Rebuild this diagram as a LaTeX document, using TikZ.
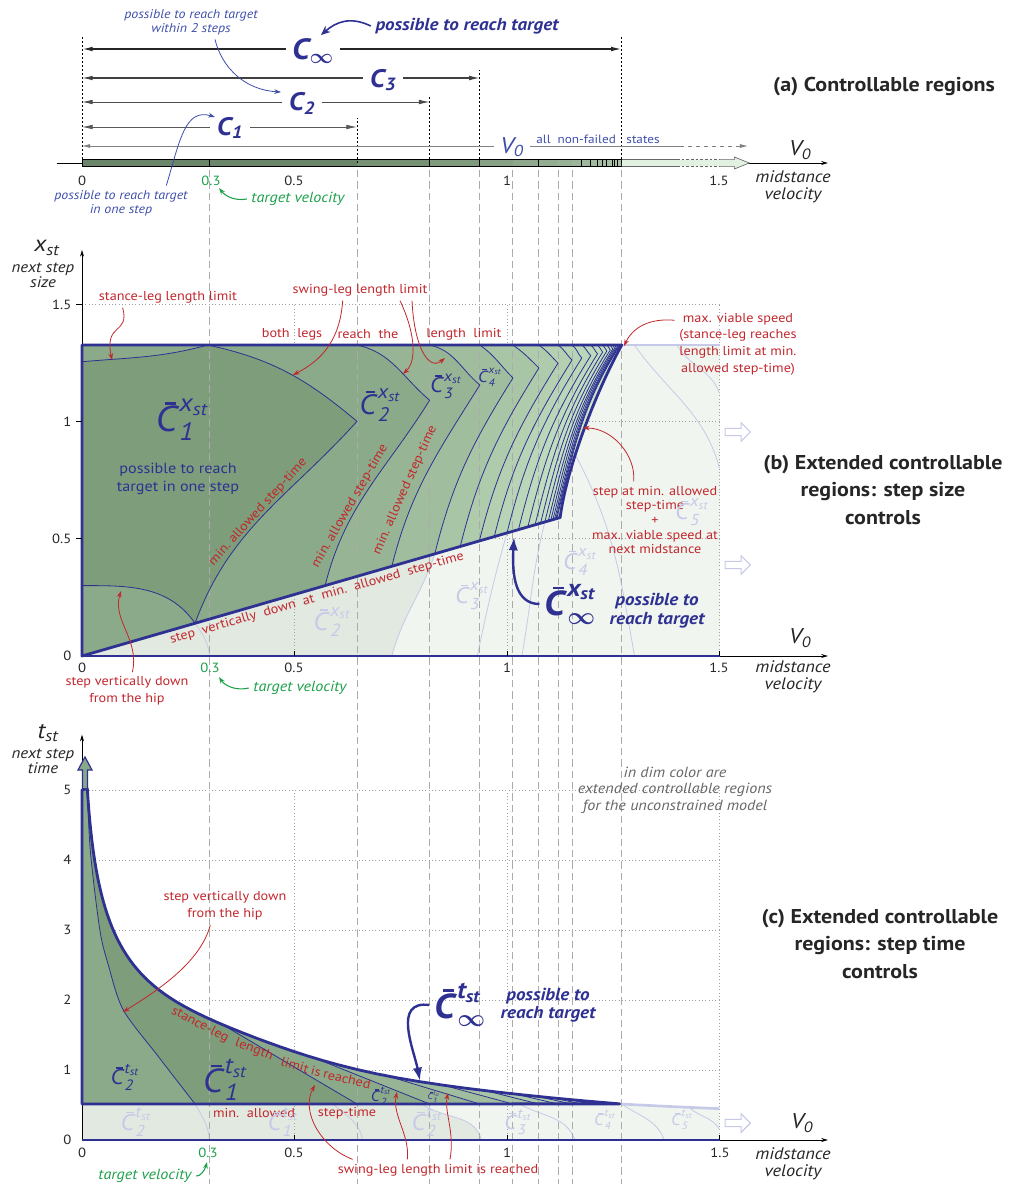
\RequirePackage{fix-cm}
\documentclass[tikz,border=0pt]{standalone}
\usepackage{amsmath}
\usepackage{fontspec}
\setmainfont{PT Sans}[FakeStretch=1.1]
\usetikzlibrary{arrows.meta,calc,shapes.arrows}
\pgfdeclarelayer{fills}
\pgfdeclarelayer{guides}
\pgfsetlayers{fills,guides,main}
\definecolor{navy}{RGB}{46,49,146}
\definecolor{midblue}{RGB}{62,78,170}
\definecolor{lblred}{RGB}{193,39,45}
\definecolor{tgtgreen}{RGB}{30,160,75}
\definecolor{cdark}{RGB}{125,157,123}
\definecolor{clight}{RGB}{203,230,200}
\definecolor{dimline}{RGB}{198,202,232}
\definecolor{dimfillA}{RGB}{226,233,225}
\definecolor{dimfillB}{RGB}{240,245,239}
\definecolor{gridgray}{RGB}{160,160,160}
\newcommand{\xst}{\text{\itshape x}_{\text{\itshape st}}}
\newcommand{\tst}{\text{\itshape t}_{\text{\itshape st}}}
\newcommand{\Cglyph}{\rlap{\kern0.25em\rule[0.76em]{0.32em}{0.07em}}\textit{C}}
\newcommand{\Cb}[2]{$\text{\Cglyph}^{#2}_{\text{\itshape #1}}$}
\newcommand{\Cinf}[1]{$\text{\Cglyph}^{#1}_{\boldsymbol{\infty}}$}
\newcommand{\Ca}[1]{$\text{\itshape C}_{\text{\itshape #1}}$}
\newcommand{\Vz}{$\text{\itshape V}_{\text{\itshape 0}}$}
\tikzset{
 declare function={tstance(\v)=1.244*ln(1+0.65/\v)*(1+0.12*sin(141.73*\v))+0.18*exp(-((\v-0.3)/0.28)^2);},
 guide/.style={black!33,line width=0.7pt,dash pattern=on 5.5pt off 3pt},
 gridline/.style={gridgray,line width=0.5pt,dotted},
 contour/.style={navy,line width=0.6pt},
 limitline/.style={navy,line width=2.1pt,line join=round},
 dimcurve/.style={dimline,line width=0.6pt},
 axisline/.style={black,line width=0.5pt},
 axisarrow/.style={axisline,-{Stealth[length=5pt,width=3pt]}},
 rangearr/.style={{Latex[length=8pt,width=3.5pt]}-{Latex[length=8pt,width=3.5pt]}},
 gaplbl/.style={fill=white,inner xsep=5pt,inner ysep=1pt,text=navy},
 ticklbl/.style={font=\fontsize{10}{12}\selectfont,text=black!85},
 axname/.style={font=\fontsize{12.5}{13}\selectfont\itshape,align=center,text=black!85},
 axsym/.style={font=\fontsize{16}{18}\selectfont,text=black!85},
 redlbl/.style={text=lblred,font=\fontsize{9.7}{12.5}\selectfont,align=center},
 redarr/.style={lblred,line width=0.6pt,-{Stealth[length=5pt,width=3.5pt]}},
 bluenote/.style={text=midblue,font=\fontsize{9.5}{10.5}\selectfont\itshape,align=center},
 bluearr/.style={midblue,line width=0.6pt,-{Stealth[length=5pt,width=3.5pt]}},
 greenlbl/.style={text=tgtgreen,font=\fontsize{11}{12}\selectfont\itshape},
 greenarr/.style={tgtgreen,line width=0.8pt,-{Stealth[length=5pt,width=3.5pt]}},
 navyarr/.style={navy,line width=1.8pt,-{Latex[length=10pt,width=7pt]}},
 possbold/.style={text=navy,font=\fontsize{13}{14}\selectfont\bfseries\itshape,align=center},
 paneltitle/.style={font=\fontsize{15}{20.5}\selectfont\bfseries,align=center,text=black!85},
 dimlbl/.style={text=dimline},
 dimarrow/.style={single arrow,draw=dimline,fill=white,line width=0.8pt,minimum height=19pt,minimum width=14pt,single arrow head extend=3pt,inner sep=1.5pt},
 stancepath/.style={insert path={-- plot[domain=0:1,samples=70,variable=\s] ({0.0125*exp(4.6214*\s)},{tstance(0.0125*exp(4.6214*\s))})}},
 xregion/.style={insert path={(0,0) -- (1.125,0.59) .. controls (1.14,0.8) and (1.21,1.13) .. (1.27,1.325) -- (0,1.325) -- cycle}},
}
\begin{document}
\begin{tikzpicture}[x=0.75pt,y=0.75pt]
\useasboundingbox (0,0) rectangle (1011,-1184);

\begin{scope}[shift={(82,-163)},x=318.75pt,y=0.75pt]
 \draw[axisarrow] (-0.059,0) -- (1.755,0);
 \foreach \k/\va/\vb in {1/0/0.647,2/0.647/0.818,3/0.818/0.936,4/0.936/1.014,5/1.014/1.075,6/1.075/1.12,7/1.12/1.153,8/1.153/1.176,9/1.176/1.197,10/1.197/1.213,11/1.213/1.225,12/1.225/1.235,13/1.235/1.243,14/1.243/1.249,15/1.249/1.253,16/1.253/1.257,17/1.257/1.26,18/1.26/1.262,19/1.262/1.264,20/1.264/1.27}{
  \pgfmathtruncatemacro\pct{100*0.82^(\k-1)}
  \fill[cdark!\pct!clight!85!black] (\va,-3.4) rectangle (\vb,3.4);
  \draw[black,line width=0.6pt] (\vb,-3.4) -- (\vb,3.4);
 }
 \draw[black,line width=1.2pt] (0.3,-3.4) -- (0.3,3.4);
 \draw[black,line width=0.7pt] (0,-3.4) rectangle (1.27,3.4);
 \fill[clight!55!white] (1.27,-3.4) -- (1.535,-3.4) -- (1.535,-6) -- (1.57,0) -- (1.535,6) -- (1.535,3.4) -- (1.27,3.4) -- cycle;
 \draw[black!60,line width=0.5pt] (1.27,3.4) -- (1.4,3.4) (1.27,-3.4) -- (1.4,-3.4);
 \draw[black!60,line width=0.5pt,dash pattern=on 2pt off 1.5pt] (1.4,3.4) -- (1.5,3.4) (1.4,-3.4) -- (1.5,-3.4);
 \draw[black!60,line width=0.5pt] (1.5,3.4) -- (1.535,3.4) -- (1.535,6) -- (1.57,0) -- (1.535,-6) -- (1.535,-3.4) -- (1.5,-3.4);
 \foreach \v/\h in {0/128,0.647/45,0.818/68,0.936/93,1.27/128}
  \draw[black,line width=0.6pt,dash pattern=on 1.5pt off 1.5pt] (\v,0) -- (\v,\h);
 \draw[rangearr,black!85,line width=1.1pt] (0,114) -- (1.27,114);
 \draw[rangearr,black!75,line width=0.9pt] (0,85) -- (0.936,85);
 \draw[rangearr,black!70,line width=0.7pt] (0,61) -- (0.818,61);
 \draw[rangearr,black!65,line width=0.6pt] (0,36) -- (0.647,36);
 \draw[black!50,line width=0.6pt,{Latex[length=6pt,width=3pt]}-] (0,17) -- (1.407,17);
 \draw[black!50,line width=0.6pt,dashed,-{Latex[length=6pt,width=3pt]}] (1.407,17) -- (1.567,17);
\end{scope}

\begin{scope}[shift={(82,-656)},x=318.75pt,y=176pt]
 \begin{pgfonlayer}{fills}
  \fill[dimfillB] (0,0) rectangle (1.5,1.325);
  \fill[dimfillA] (0,0) -- (0.83,0.4353) to[out=252,in=75] (0.729,0) -- cycle;
  \foreach \g in {0.5,1,1.5}{
   \draw[gridline] (0,\g) -- (1.5,\g);
   \draw[gridline] (\g,0) -- (\g,1.5);
  }
  \draw[dimcurve] (0.266,0.1395) to[out=-55,in=95] (0.3,0);
  \draw[dimcurve] (0.83,0.4353) to[out=252,in=75] (0.729,0);
  \draw[dimcurve] (1,0.5244) to[out=254,in=78] (0.93,0);
  \draw[dimcurve] (1.089,0.571) to[out=256,in=80] (1.035,0);
  \draw[dimcurve] (1.16,0.86) to[out=-62,in=100] (1.3,0);
  \draw[dimcurve] (1.3,1.325) to[out=-55,in=105] (1.5,0.8);
  \draw[dimcurve] (1.4,1.325) to[out=-60,in=110] (1.5,1.12);
  \fill[clight] [xregion];
  \begin{scope}
   \clip [xregion];
   \foreach \k/\vt/\vv/\xv/\vb in {19/1.262/1.264/1.319/1.117,18/1.260/1.262/1.318/1.115,17/1.257/1.260/1.316/1.112,16/1.253/1.257/1.314/1.108,15/1.249/1.253/1.311/1.103,14/1.243/1.249/1.308/1.097,13/1.235/1.243/1.304/1.089,12/1.225/1.235/1.300/1.079,11/1.213/1.225/1.295/1.066,10/1.197/1.213/1.288/1.049,9/1.176/1.197/1.280/1.027,8/1.153/1.176/1.270/1.000,7/1.120/1.153/1.261/0.970,6/1.075/1.120/1.248/0.935,5/1.014/1.075/1.227/0.890,4/0.936/1.014/1.185/0.830,3/0.818/0.936/1.155/0.729,2/0.647/0.818/1.090/0.572}{
    \pgfmathtruncatemacro\pct{100*0.82^(\k-1)}
    \pgfmathsetmacro\yb{0.5244*\vb}
    \pgfmathsetmacro\uo{\k<4 ? -12 : -35}
    \pgfmathsetmacro\ui{\k<4 ? 140 : 135}
    \fill[cdark!\pct!clight] (0,0) -- (\vb,\yb) to[out=76,in=238] (\vv,\xv) to[out=\ui,in=\uo] (\vt,1.325) -- (0,1.325) -- cycle;
   }
   \fill[cdark] (0,1.254) to[out=5,in=195] (0.296,1.325) to[out=-12,in=140] (0.647,1.0) to[out=228,in=70] (0.266,0.1395) to[out=125,in=0] (0,0.3) -- cycle;
  \end{scope}
 \end{pgfonlayer}
 \begin{scope}
  \clip [xregion];
  \foreach \k/\vt/\vv/\xv/\vb in {19/1.262/1.264/1.319/1.117,18/1.260/1.262/1.318/1.115,17/1.257/1.260/1.316/1.112,16/1.253/1.257/1.314/1.108,15/1.249/1.253/1.311/1.103,14/1.243/1.249/1.308/1.097,13/1.235/1.243/1.304/1.089,12/1.225/1.235/1.300/1.079,11/1.213/1.225/1.295/1.066,10/1.197/1.213/1.288/1.049,9/1.176/1.197/1.280/1.027,8/1.153/1.176/1.270/1.000,7/1.120/1.153/1.261/0.970,6/1.075/1.120/1.248/0.935,5/1.014/1.075/1.227/0.890,4/0.936/1.014/1.185/0.830,3/0.818/0.936/1.155/0.729,2/0.647/0.818/1.090/0.572}{
   \pgfmathsetmacro\yb{0.5244*\vb}
   \pgfmathsetmacro\uo{\k<4 ? -12 : -35}
   \pgfmathsetmacro\ui{\k<4 ? 140 : 135}
   \draw[contour] (\vb,\yb) to[out=76,in=238] (\vv,\xv) to[out=\ui,in=\uo] (\vt,1.325);
  }
 \end{scope}
 \draw[contour] (0,1.254) to[out=5,in=195] (0.296,1.325) to[out=-12,in=140] (0.647,1.0) to[out=228,in=70] (0.266,0.1395) to[out=125,in=0] (0,0.3);
 \draw[dimline,line width=2pt] (1.27,1.325) -- (1.5,1.325);
 \draw[axisarrow] (0,0) -- (1.755,0);
 \draw[axisarrow] (0,0) -- (0,1.73);
 \draw[navy,line width=1pt] (0,0) -- (1.5,0);
 \draw[limitline] [xregion];
 \foreach \g in {0.5,1,1.5}{
  \draw[axisline] (-0.014,\g) -- (0,\g);
  \draw[axisline] (\g,0) -- (\g,0.022);
 }
\end{scope}

\begin{scope}[shift={(82,-1140)},x=318.75pt,y=52.5pt]
 \begin{pgfonlayer}{fills}
  \fill[dimfillB] (0,0) -- (0,0.514) -- (1.27,0.514) -- plot[domain=1.27:1.5,samples=10] (\x,{1.244*ln(1+0.65/\x)}) -- (1.5,0) -- cycle;
  \fill[dimfillA] (0,0) -- (0,0.514) -- (0.8,0.514) to[out=-35,in=105] (0.94,0) -- cycle;
  \foreach \g in {1,...,5} \draw[gridline] (0,\g) -- (1.5,\g);
  \foreach \g in {0.5,1,1.5} \draw[gridline] (\g,0) -- (\g,5);
  \draw[dimcurve] (0.266,0.514) to[out=-60,in=95] (0.3,0);
  \draw[dimcurve] (0.59,0.514) to[out=-40,in=100] (0.66,0);
  \draw[dimcurve] (0.8,0.514) to[out=-35,in=105] (0.94,0);
  \draw[dimcurve] (1.03,0.514) to[out=-30,in=110] (1.16,0);
  \draw[dimcurve] (1.27,0.514) to[out=-35,in=110] (1.37,0);
  \draw[dimcurve] (1.43,0.455) to[out=-40,in=120] (1.5,0.15);
  \fill[clight] (0,0.514) -- (0,5) [stancepath] -- cycle;
  \begin{scope}
   \clip (0,0.514) -- (0,5) [stancepath] -- cycle;
   \foreach \k/\vs/\vv in {15/1.236/1.253,14/1.228/1.249,13/1.218/1.243,12/1.205/1.235,11/1.19/1.225,10/1.17/1.213,9/1.145/1.197,8/1.11/1.176,7/1.07/1.153,6/1.02/1.12,5/0.95/1.075,4/0.85/1.014,3/0.72/0.936,2/0.55/0.818}{
    \pgfmathtruncatemacro\pct{100*0.82^(\k-1)}
    \pgfmathsetmacro\ts{tstance(\vs)}
    \fill[cdark!\pct!clight] (0,0) -- (\vv,0.514) -- ($(\vv,0.514)!1.4!(\vs,\ts)$) |- (0,6) -- cycle;
   }
   \pgfmathsetmacro\tone{tstance(0.33)}
   \fill[cdark] plot[smooth] coordinates {(0.004,5.6) (0.012,5) (0.02,4.1) (0.042,3) (0.062,2.5) (0.097,1.86) (0.18,1.19) (0.266,0.514)} -- (0.647,0.514) -- ($(0.647,0.514)!1.3!(0.33,\tone)$) |- (0.004,6) -- cycle;
  \end{scope}
 \end{pgfonlayer}
 \begin{scope}
  \clip (0,0.514) -- (0,5) [stancepath] -- cycle;
  \foreach \k/\vs/\vv in {15/1.236/1.253,14/1.228/1.249,13/1.218/1.243,12/1.205/1.235,11/1.19/1.225,10/1.17/1.213,9/1.145/1.197,8/1.11/1.176,7/1.07/1.153,6/1.02/1.12,5/0.95/1.075,4/0.85/1.014,3/0.72/0.936,2/0.55/0.818}{
   \pgfmathsetmacro\ts{tstance(\vs)}
   \draw[contour] (\vv,0.514) -- ($(\vv,0.514)!1.4!(\vs,\ts)$);
  }
  \pgfmathsetmacro\tone{tstance(0.33)}
  \draw[contour] (0.647,0.514) -- ($(0.647,0.514)!1.3!(0.33,\tone)$);
  \draw[contour] plot[smooth] coordinates {(0.004,5.6) (0.012,5) (0.02,4.1) (0.042,3) (0.062,2.5) (0.097,1.86) (0.18,1.19) (0.266,0.514)};
 \end{scope}
 \draw[dimline,line width=2pt] plot[domain=1.27:1.5,samples=10] (\x,{1.244*ln(1+0.65/\x)});
 \draw[axisarrow] (0,0) -- (1.755,0);
 \draw[axisarrow] (0,0) -- (0,5.79);
 \draw[navy,line width=1pt] (0,0) -- (1.5,0);
 \draw[limitline] (0,0.514) -- (0,5) [stancepath] -- cycle;
 \foreach \g in {0.5,1,1.5} \draw[axisline] (\g,0) -- (\g,0.07);
\end{scope}
\filldraw[fill=cdark!85!clight,draw=navy,line width=0.9pt] (82.5,-788) -- (82.5,-770) -- (78,-770) -- (85,-757) -- (92,-770) -- (87.5,-770) -- (87.5,-788);

\begin{pgfonlayer}{guides}
 \foreach \v in {0.3,0.647,0.818,0.936,1.014,1.075,1.12,1.153,1.27}
  \draw[guide] ({82+425*\v},-170) -- ({82+425*\v},-1184);
\end{pgfonlayer}

\node[paneltitle] (titlea) at (884,-87) {(a) Controllable regions};
\node[axsym] (vzeroa) at (800,-150) {\Vz};
\node[axname] (midvela) at (793,-187) {midstance\\velocity};
\node[ticklbl] (ta0) at (82,-181) {0};
\node[ticklbl,text=tgtgreen] (ta03) at (211,-181) {0.3};
\node[ticklbl] (ta05) at (294,-181) {0.5};
\node[ticklbl] (ta1) at (507,-181) {1};
\node[ticklbl] (ta15) at (719,-181) {1.5};
\node[gaplbl,font=\fontsize{22}{24}\selectfont\bfseries] (cinfa) at (313,-51) {$\text{\itshape C}_{\boldsymbol{\infty}}$};
\node[gaplbl,font=\fontsize{19}{21}\selectfont\bfseries] (c3a) at (383,-80) {\Ca{3}};
\node[gaplbl,font=\fontsize{19}{21}\selectfont\bfseries] (c2a) at (302,-103) {\Ca{2}};
\node[gaplbl,font=\fontsize{19}{21}\selectfont\bfseries] (c1a) at (230,-128) {\Ca{1}};
\node[gaplbl,text=midblue,font=\fontsize{17}{19}\selectfont] (vzgap) at (512,-147) {\Vz};
\node[text=midblue,font=\fontsize{9}{10}\selectfont] (nonfailed) at (598,-139) {all\ \ non-failed\ \ \ states};
\node[possbold] (possa) at (467,-26) {possible to reach target};
\node[bluenote] (within2) at (191,-22) {possible to reach target\\within 2 steps};
\node[bluenote] (onestep) at (121,-203) {possible to reach target\\in one step};
\node[greenlbl] (tgtvela) at (298,-199) {target velocity};
\coordinate (tipcinfa) at (321,-35);
\coordinate (tipc2a) at (281,-92);
\coordinate (tipc1a) at (215,-117);
\coordinate (tiptgta) at (219,-188);
\draw[navy,line width=1.2pt,-{Stealth[length=7pt,width=6pt]}] (possa.west) .. controls (350,-16) and (336,-22) .. (tipcinfa);
\draw[bluearr] ([xshift=18pt]within2.south) .. controls (222,-68) and (245,-90) .. (tipc2a);
\draw[bluearr] ([xshift=34pt]onestep.north) .. controls (180,-140) and (185,-108) .. (tipc1a);
\draw[greenarr] (tgtvela.west) .. controls (236,-201) and (226,-197) .. (tiptgta);

\node[paneltitle] (titleb) at (883,-490) {(b) Extended controllable\\regions: step size\\controls};
\node[axsym,font=\fontsize{17}{19}\selectfont] (xstlbl) at (47,-248) {$\xst$};
\node[axname,font=\fontsize{11.5}{11.5}\selectfont\itshape] (nextsize) at (43,-275) {next step\\size};
\node[axsym] (vzerob) at (800,-638) {\Vz};
\node[axname] (midvelb) at (793,-677) {midstance\\velocity};
\node[ticklbl,anchor=east] (tb15) at (76,-305) {1.5};
\node[ticklbl,anchor=east] (tb1) at (76,-422) {1};
\node[ticklbl,anchor=east] (tb05) at (76,-539) {0.5};
\node[ticklbl,anchor=east] (tb0) at (76,-656) {0};
\node[ticklbl] (tbx0) at (82,-668) {0};
\node[ticklbl,text=tgtgreen] (tbx03) at (210,-668) {0.3};
\node[ticklbl] (tbx05) at (294,-668) {0.5};
\node[ticklbl] (tbx1) at (507,-668) {1};
\node[ticklbl] (tbx15) at (719,-668) {1.5};
\node[redlbl] (stancelbl) at (168,-297) {stance-leg length limit};
\node[redlbl] (swinglbl) at (360,-290) {swing-leg length limit};
\node[redlbl] (bothlegs) at (292,-334) {both\ \ legs};
\node[redlbl] (reachthe) at (368,-334) {reach\ \ the};
\node[redlbl] (lenlimit) at (464,-334) {length\ \ limit};
\node[redlbl] (maxvlbl) at (738,-344) {max. viable speed\\(stance-leg reaches\\length limit at min.\\allowed step-time)};
\node[redlbl,font=\fontsize{9.7}{11}\selectfont] (stepminlbl) at (655,-520) {step at min. allowed\\step-time\\+\\max. viable speed at\\next midstance};
\node[redlbl,rotate=48] (minal1) at (258,-512) {min.\ allowed step-time};
\node[redlbl,rotate=60] (minal2) at (350,-506) {min.\ allowed step-time};
\node[redlbl,rotate=66] (minal3) at (405,-490) {min.\ allowed step-time};
\node[redlbl,rotate=16] (lowlinelbl) at (317,-598) {step\ \ vertically\ \ down\ \ at\ \ min.\ \ allowed\ \ step-time};
\node[text=navy,font=\fontsize{27}{30}\selectfont] (c1b) at (182,-420) {\Cb{1}{\xst}};
\node[text=navy,font=\fontsize{11}{13}\selectfont,align=center] (poss1b) at (178,-479) {possible to reach\\target in one step};
\node[text=navy,font=\fontsize{21}{24}\selectfont] (c2b) at (380,-405) {\Cb{2}{\xst}};
\node[text=navy,font=\fontsize{16}{18}\selectfont] (c3b) at (446,-386) {\Cb{3}{\xst}};
\node[text=navy,font=\fontsize{12}{14}\selectfont] (c4b) at (490,-377) {\Cb{4}{\xst}};
\node[text=navy,font=\fontsize{26}{28}\selectfont\bfseries] (cinfb) at (570,-604) {\Cinf{\xst}};
\node[possbold] (possb) at (657,-611) {possible to\\reach target};
\node[dimlbl,font=\fontsize{19}{21}\selectfont] (dc2b) at (332,-622) {\Cb{2}{\xst}};
\node[dimlbl,font=\fontsize{17}{19}\selectfont] (dc3b) at (472,-596) {\Cb{3}{\xst}};
\node[dimlbl,font=\fontsize{17}{19}\selectfont] (dc4b) at (580,-562) {\Cb{4}{\xst}};
\node[dimlbl,font=\fontsize{17}{19}\selectfont] (dc5b) at (692,-512) {\Cb{5}{\xst}};
\node[dimarrow] (darb1) at (736,-432) {};
\node[dimarrow] (darb2) at (736,-565) {};
\node[redlbl] (hipb) at (127,-691) {step vertically down\\from the hip};
\node[greenlbl] (tgtvelb) at (300,-688) {target velocity};
\coordinate (tipstance) at (112,-360);
\coordinate (tipsw1) at (293,-375);
\coordinate (tipsw2) at (403,-374);
\coordinate (tipsw3) at (445,-358);
\coordinate (tipmaxv) at (624,-346);
\coordinate (tipstepmin) at (583,-428);
\coordinate (tiphipb) at (121,-591);
\coordinate (tiptgtb) at (219,-677);
\coordinate (tipcinfb) at (514,-537);
\draw[redarr] ([xshift=-34pt]stancelbl.south) .. controls (130,-335) and (104,-322) .. (tipstance);
\draw[redarr] ([xshift=-13pt]swinglbl.south) .. controls (340,-340) and (322,-360) .. (tipsw1);
\draw[redarr] ([xshift=30pt]swinglbl.south) .. controls (414,-330) and (418,-360) .. (tipsw2);
\draw[redarr] ([xshift=39pt]swinglbl.south) .. controls (414,-345) and (428,-372) .. (tipsw3);
\draw[redarr] ([yshift=-9pt]maxvlbl.north west) .. controls (650,-318) and (633,-327) .. (tipmaxv);
\draw[redarr] ([xshift=-16pt]stepminlbl.north) .. controls (636,-455) and (612,-428) .. (tipstepmin);
\draw[redarr] ([xshift=4pt]hipb.north) .. controls (140,-640) and (112,-620) .. (tiphipb);
\draw[greenarr] (tgtvelb.west) .. controls (236,-691) and (225,-686) .. (tiptgtb);
\draw[navyarr] (cinfb.west) .. controls (515,-604) and (512,-575) .. (tipcinfb);

\node[paneltitle] (titlec) at (880,-944) {(c) Extended controllable\\regions: step time\\controls};
\node[axsym,font=\fontsize{17}{19}\selectfont] (tstlbl) at (48,-733) {$\tst$};
\node[axname,font=\fontsize{11.5}{11.5}\selectfont\itshape] (nexttime) at (43,-761) {next step\\time};
\foreach \t in {0,...,5}
 \node[ticklbl,anchor=east] (tc\t) at (76,{-1140+70*\t}) {\t};
\node[ticklbl] (tcx0) at (82,-1153) {0};
\node[ticklbl,text=tgtgreen] (tcx03) at (208,-1153) {0.3};
\node[ticklbl] (tcx05) at (294,-1153) {0.5};
\node[ticklbl] (tcx1) at (507,-1153) {1};
\node[ticklbl] (tcx15) at (720,-1153) {1.5};
\node[axsym] (vzeroc) at (802,-1123) {\Vz};
\node[axname] (midvelc) at (793,-1164) {midstance\\velocity};
\node[greenlbl] (tgtvelc) at (145,-1176) {target velocity};
\node[redlbl] (swingc) at (438,-1170) {swing-leg length limit is reached};
\node[redlbl] (minalc1) at (254,-1113) {min.\ \ allowed};
\node[redlbl] (minalc2) at (347,-1113) {step-time};
\node[redlbl,rotate=-28] (wstance) at (200,-1025) {stance-leg};
\node[redlbl,rotate=-21] (wlength) at (254,-1050) {length};
\node[redlbl,rotate=-17] (wlimit) at (295,-1065) {limit};
\node[redlbl,rotate=-15] (wis) at (316,-1071) {is};
\node[redlbl,rotate=-13] (wreached) at (347,-1079) {reached};
\node[redlbl] (hipc) at (225,-906) {step vertically down\\from the hip};
\node[text=navy,font=\fontsize{16}{18}\selectfont] (c2c) at (125,-1077) {\Cb{2}{\tst}};
\node[text=navy,font=\fontsize{25}{27}\selectfont] (c1c) at (225,-1080) {\Cb{1}{\tst}};
\node[text=navy,font=\fontsize{11}{13}\selectfont] (c2cs) at (381,-1096) {\Cb{2}{\tst}};
\node[text=navy,font=\fontsize{6.5}{8}\selectfont] (c3c) at (434,-1097) {\Cb{3}{\tst}};
\node[text=navy,font=\fontsize{26}{28}\selectfont\bfseries] (cinfc) at (460,-1005) {\Cinf{\tst}};
\node[possbold] (possc) at (548,-1005) {possible to\\reach target};
\node[text=black!60,font=\fontsize{11}{12.4}\selectfont\itshape,align=center] (dimnote) at (675,-790) {in dim color are\\extended controllable regions\\for the unconstrained model};
\node[dimlbl,font=\fontsize{17}{19}\selectfont] (dc2c) at (136,-1122) {\Cb{2}{\tst}};
\node[dimlbl,font=\fontsize{17}{19}\selectfont] (dc1c) at (283,-1122) {\Cb{1}{\tst}};
\node[dimlbl,font=\fontsize{17}{19}\selectfont] (dc2cb) at (427,-1122) {\Cb{2}{\tst}};
\node[dimlbl,font=\fontsize{15}{17}\selectfont] (dc3c) at (518,-1122) {\Cb{3}{\tst}};
\node[dimlbl,font=\fontsize{12}{14}\selectfont] (dc4c) at (605,-1120) {\Cb{4}{\tst}};
\node[dimlbl,font=\fontsize{12}{14}\selectfont] (dc5c) at (682,-1120) {\Cb{5}{\tst}};
\node[dimarrow] (darc) at (736,-1123) {};
\coordinate (tiptgtc) at (207,-1162);
\coordinate (tipsc1) at (315,-1085);
\coordinate (tipsc2) at (397,-1092);
\coordinate (tipsc3) at (448,-1093);
\coordinate (tiphipc) at (123,-1012);
\coordinate (tipcinfc) at (420,-1081);
\draw[greenarr] (tgtvelc.east) .. controls (200,-1177) and (205,-1170) .. (tiptgtc);
\draw[redarr] ([xshift=-64pt]swingc.north) .. controls (322,-1148) and (300,-1112) .. (tipsc1);
\draw[redarr] ([xshift=-23pt]swingc.north) .. controls (410,-1135) and (392,-1115) .. (tipsc2);
\draw[redarr] ([xshift=9pt]swingc.north) .. controls (455,-1132) and (444,-1112) .. (tipsc3);
\draw[redarr] ([xshift=-11pt]hipc.south) .. controls (200,-965) and (150,-995) .. (tiphipc);
\draw[navyarr] (cinfc.west) .. controls (392,-1000) and (414,-1050) .. (tipcinfc);
\end{tikzpicture}
\end{document}
